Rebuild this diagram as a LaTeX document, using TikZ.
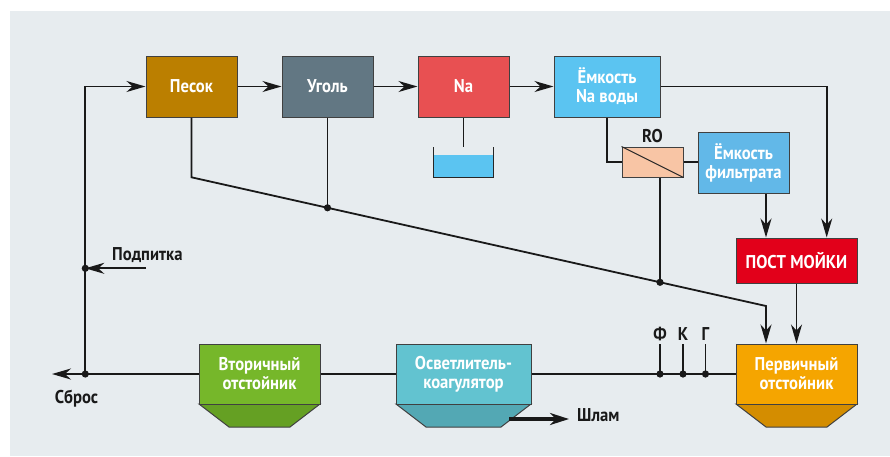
\documentclass[tikz,border=0pt]{standalone}
\usepackage{fontspec}
\newfontfamily\lbl{PT Sans}[FakeStretch=0.9]
\usetikzlibrary{arrows.meta}
\definecolor{bg}{HTML}{E7ECEF}
\definecolor{cpesok}{HTML}{BB7F00}
\definecolor{cugol}{HTML}{627783}
\definecolor{cna}{HTML}{E85052}
\definecolor{cemk}{HTML}{5BC4F1}
\definecolor{cfiltr}{HTML}{62B8E8}
\definecolor{cpost}{HTML}{E2001A}
\definecolor{cro}{HTML}{F8C5A5}
\definecolor{cperv}{HTML}{F5A500}
\definecolor{cpervb}{HTML}{D48D00}
\definecolor{cvtor}{HTML}{76B72A}
\definecolor{cvtorb}{HTML}{65A023}
\definecolor{cosv}{HTML}{62C3D0}
\definecolor{cosvb}{HTML}{53A8B4}
\definecolor{cwater}{HTML}{5BC4F1}
\tikzset{
  box/.style={draw=black!75, line width=1pt, text=white, font=\lbl\bfseries\fontsize{18.5}{19}\selectfont,
    align=center, inner sep=1pt, minimum width=91pt, minimum height=61pt},
  lab/.style={text=black!90, font=\lbl\bfseries\fontsize{18.5}{19}\selectfont, inner sep=0pt},
  conn/.style={draw=black!90, line width=1.8pt},
  arr/.style={conn, -{Stealth[length=19pt,width=11pt,inset=6pt]}},
  thickarr/.style={draw=black!90, line width=3.2pt, -{Stealth[length=19pt,width=12pt,inset=6pt]}},
  dot/.style={fill=black!90}
}
\begin{document}
\begin{tikzpicture}[x=1pt,y=-1pt]
\useasboundingbox (0,0) rectangle (890,456);
\fill[white] (0,0) rectangle (890,456);
\fill[bg] (10,11) rectangle (890,456);

% top row
\node[box, fill=cpesok] (pesok) at (191.5,86.5) {Песок};
\node[box, fill=cugol] (ugol) at (327.5,86.5) {Уголь};
\node[box, fill=cna] (na) at (463.5,86.5) {Na};
\node[box, fill=cemk, minimum width=106pt] (emk) at (607,86.5) {Ёмкость\\Na воды};
\node[box, fill=cfiltr] (filtr) at (743.5,162.5) {Ёмкость\\фильтрата};
\node[draw=black!75, line width=1pt, fill=cro, minimum width=61pt, minimum height=30pt, inner sep=0pt] (ro) at (652.5,162) {};
\draw[black!85, line width=1pt] (ro.north west) -- (ro.south east);
\node[lab] (rolab) at (652.5,136) {RO};
\node[box, fill=cpost, minimum width=121pt, minimum height=45pt] (post) at (796.5,260.5) {ПОСТ МОЙКИ};

% bottom row tanks
\fill[cvtorb, draw=black!75, line width=1pt] (199,404) -- (320,404) -- (290,427) -- (229,427) -- cycle;
\node[box, fill=cvtor, minimum width=121pt, minimum height=60pt] (vtor) at (259.5,374) {Вторичный\\отстойник};
\fill[cosvb, draw=black!75, line width=1pt] (396,404) -- (531,404) -- (501,427) -- (426,427) -- cycle;
\node[box, fill=cosv, minimum width=135pt, minimum height=60pt] (osv) at (463.5,374) {Осветлитель-\\коагулятор};
\fill[cpervb, draw=black!75, line width=1pt] (736,404) -- (857,404) -- (827,427) -- (766,427) -- cycle;
\node[box, fill=cperv, minimum width=121pt, minimum height=60pt] (perv) at (796.5,374) {Первичный\\отстойник};

% coordinates
\coordinate (j1) at (85.3,268.3);
\coordinate (j2) at (85.3,374);
\coordinate (podst) at (146,268.3);
\coordinate (sbrend) at (52,374);
\coordinate (d1) at (191.5,177.3);
\coordinate (d2) at (766,306);
\coordinate (jU) at (327.5,207.8);
\coordinate (jR) at (660,282.3);
\coordinate (xa) at (766,0);
\coordinate (xb) at (826.7,0);
\coordinate (tanktop) at (463.5,147);
\coordinate (fF) at (660,374);
\coordinate (fK) at (683,374);
\coordinate (fG) at (705.5,374);
\coordinate (shs) at (509,419);
\coordinate (she) at (569,419);

% top chain
\draw[arr] (pesok) -- (ugol);
\draw[arr] (ugol) -- (na);
\draw[arr] (na) -- (emk);
\draw[arr] (emk.east) -| (post.north -| xb);
\draw[conn] (emk.south) |- (ro.west);
\draw[conn] (ro.east) -- (ro.east -| filtr.west);
\draw[arr] (filtr.south -| xa) -- (post.north -| xa);
\draw[arr] (post) -- (perv);

% Na tank
\draw[conn] (na.south) -- (tanktop);
\fill[cwater] (433.7,155) rectangle (493.7,177.5);
\draw[black!85, line width=1.5pt] (433.7,147) -- (433.7,177.5) -- (493.7,177.5) -- (493.7,147);

% diagonal return
\draw[arr] (pesok.south) -- (d1) -- (d2) -- (d2 |- perv.north);
\draw[conn] (ugol.south) -- (jU);
\draw[conn] (jR |- ro.south) -- (jR);
\fill[dot] (jU) circle (3.6pt);
\fill[dot] (jR) circle (3.6pt);

% left loop
\draw[arr] (j2) |- (pesok.west);
\draw[arr] (podst) -- (j1);
\draw[arr] (j2) -- (sbrend);
\draw[conn] (vtor.west) -- (j2);
\fill[dot] (j1) circle (3.6pt);
\fill[dot] (j2) circle (3.6pt);
\node[lab, anchor=west] (podlab) at (112,255) {Подпитка};
\node[lab] (sbrlab) at (76.5,399) {Сброс};

% bottom line
\draw[conn] (vtor.east) -- (osv.west);
\draw[conn] (osv.east) -- (perv.west);
\foreach \c in {fF,fK,fG} {
  \draw[conn] (\c) -- (\c |- perv.north);
  \fill[dot] (\c) circle (3.6pt);
}
\node[lab] (lF) at (660,334) {Ф};
\node[lab] (lK) at (683,334) {К};
\node[lab] (lG) at (705.5,334) {Г};

% sludge
\draw[thickarr] (shs) -- (she);
\node[lab, anchor=west] (shlab) at (577,415) {Шлам};
\end{tikzpicture}
\end{document}
